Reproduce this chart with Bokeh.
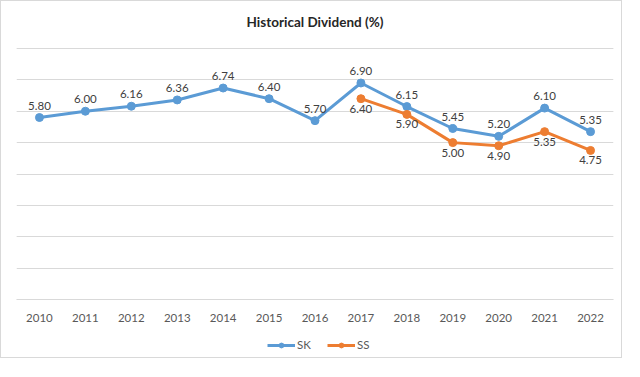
from bokeh.plotting import figure
from bokeh.models import Grid, FixedTicker, Legend, LegendItem, Range1d, FactorRange, Label
from bokeh.embed import file_html
from bokeh.resources import INLINE

years = [str(y) for y in range(2010, 2023)]
sk_values = [5.80, 6.00, 6.16, 6.36, 6.74, 6.40, 5.70, 6.90, 6.15, 5.45, 5.20, 6.10, 5.35]
ss_years = [str(y) for y in range(2017, 2023)]
ss_values = [6.40, 5.90, 5.00, 4.90, 5.35, 4.75]
grid_levels = [0, 1, 2, 3, 4, 5, 6, 7, 8]
title_text = "Historical Dividend (%)"

SK_COLOR = "#5B9BD5"
SS_COLOR = "#ED7D31"
FONT = "Lato"

p = figure(width=622, height=358, x_range=FactorRange(*years), y_range=Range1d(-1.911, 9.497),
           output_backend="svg", toolbar_location=None, y_axis_location=None,
           min_border_left=15, min_border_right=10, min_border_top=0, min_border_bottom=0)
p.styles = {"border": "1px solid #d9d9d9"}
p.outline_line_color = None
p.background_fill_color = "white"
p.border_fill_color = "white"

p.add_layout(Label(x=len(years) / 2, y=8.83, text=title_text, text_align="center",
                   text_baseline="middle", text_font=FONT, text_font_size="13.5px",
                   text_font_style="bold", text_color="#262626"))

p.xgrid.visible = False
p.add_layout(Grid(dimension=1, ticker=FixedTicker(ticks=grid_levels),
                  grid_line_color="#d9d9d9", grid_line_width=1))

xa = p.xaxis[0]
xa.fixed_location = 0
xa.axis_line_color = "#d9d9d9"
xa.major_tick_line_color = None
xa.minor_tick_line_color = None
xa.major_label_text_font = FONT
xa.major_label_text_font_size = "11.5px"
xa.major_label_text_color = "#595959"
xa.major_label_standoff = 8

sk_line = p.line(years, sk_values, line_color=SK_COLOR, line_width=3)
sk_pts = p.scatter(years, sk_values, size=8, fill_color=SK_COLOR, line_color=SK_COLOR)
ss_line = p.line(ss_years, ss_values, line_color=SS_COLOR, line_width=3)
ss_pts = p.scatter(ss_years, ss_values, size=8, fill_color=SS_COLOR, line_color=SS_COLOR)

p.text(years, sk_values, text=[f"{v:.2f}" for v in sk_values], y_offset=-12,
       text_align="center", text_baseline="middle", text_font_size="11.5px",
       text_color="#404040", text_font={"value": FONT})
p.text(ss_years, ss_values, text=[f"{v:.2f}" for v in ss_values], y_offset=10,
       text_align="center", text_baseline="middle", text_font_size="11.5px",
       text_color="#404040", text_font={"value": FONT})

legend = Legend(items=[LegendItem(label="SK", renderers=[sk_line, sk_pts]),
                       LegendItem(label="SS", renderers=[ss_line, ss_pts])],
                orientation="horizontal", location=(251, 8),
                border_line_color=None, background_fill_alpha=0,
                label_text_font=FONT, label_text_font_size="11.5px", label_text_color="#595959",
                glyph_width=28, glyph_height=12, label_height=12, label_standoff=2,
                spacing=10, padding=0, margin=0)
p.add_layout(legend, "center")

open("out.html", "w").write(file_html(p, INLINE))
